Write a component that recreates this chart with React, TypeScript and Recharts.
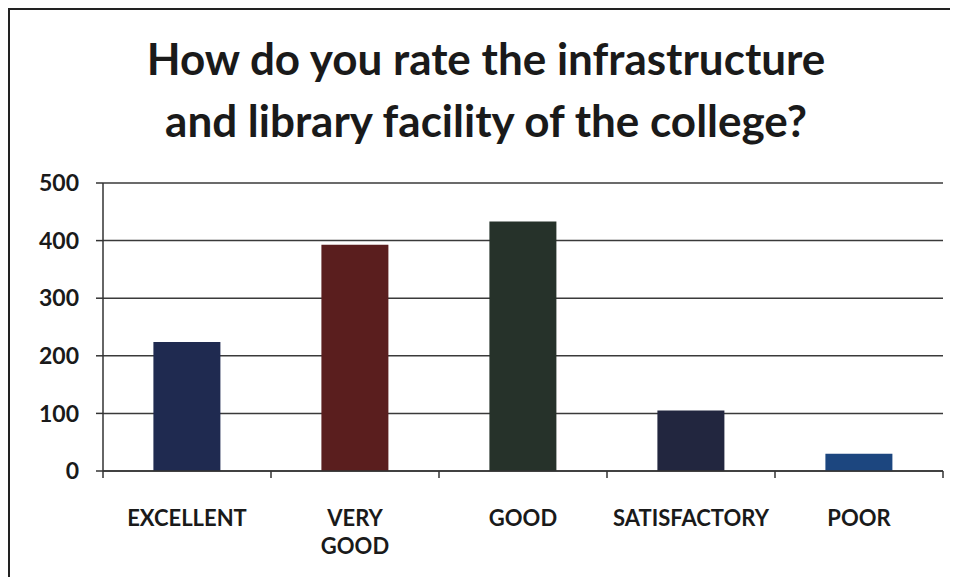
import { BarChart, Bar, XAxis, YAxis, CartesianGrid, Cell } from 'recharts'

const categories = ['EXCELLENT', 'VERY GOOD', 'GOOD', 'SATISFACTORY', 'POOR']
const responses = [224, 393, 433, 105, 30]
const barColors = ['#1f2a50', '#5a1e1e', '#26322a', '#22263f', '#1c467f']
const yTicks = [0, 100, 200, 300, 400, 500]

const data = categories.map((name, i) => ({ name, value: responses[i] }))

const FONT = 'Lato, "Open Sans", sans-serif'
const CHART_W = 948
const CHART_H = 565
const MARGIN = { top: 175, right: 13, bottom: 22, left: 0 }
const Y_AXIS_W = 95
const BAND = (CHART_W - MARGIN.left - MARGIN.right - Y_AXIS_W) / categories.length

const CategoryTick = (props: any) => {
  const { x, y, payload, index } = props
  const words = String(payload.value).split(' ')
  const left = x - BAND / 2
  return (
    <g>
      <line x1={left} x2={left} y1={y - 8} y2={y - 1} stroke="#333" strokeWidth={1.5} />
      {index === categories.length - 1 && (
        <line x1={left + BAND} x2={left + BAND} y1={y - 8} y2={y - 1} stroke="#333" strokeWidth={1.5} />
      )}
      <text x={x} y={y + 47} textAnchor="middle" fontFamily={FONT} fontWeight={700} fontSize={22} fill="#1a1a1a">
        {words.map((w, i) => (
          <tspan key={i} x={x} dy={i === 0 ? 0 : 28}>{w}</tspan>
        ))}
      </text>
    </g>
  )
}

export default function App() {
  return (
    <div
      style={{
        position: 'relative',
        width: 950,
        height: 569,
        overflow: 'hidden',
        borderTop: '2px solid #222',
        borderLeft: '2px solid #222',
        boxSizing: 'border-box',
        background: '#fff',
      }}
    >
      <div
        style={{
          position: 'absolute',
          top: 17,
          left: 6,
          width: 940,
          textAlign: 'center',
          fontFamily: FONT,
          fontWeight: 700,
          fontSize: 44,
          lineHeight: '62px',
          color: '#1a1a1a',
          whiteSpace: 'nowrap',
        }}
      >
        How do you rate the infrastructure
        <br />
        and library facility of the college?
      </div>
      <div style={{ position: 'absolute', top: -2, left: -2 }}>
        <BarChart width={CHART_W} height={CHART_H} data={data} margin={MARGIN} barCategoryGap="30%">
          <CartesianGrid vertical={false} stroke="#3a3a3a" strokeWidth={1.5} />
          <XAxis
            dataKey="name"
            interval={0}
            axisLine={{ stroke: '#333', strokeWidth: 1.5 }}
            tickLine={false}
            height={80}
            tick={<CategoryTick />}
          />
          <YAxis
            domain={[0, 500]}
            ticks={yTicks}
            width={Y_AXIS_W}
            tickSize={7}
            tickMargin={17}
            axisLine={{ stroke: '#333', strokeWidth: 1.5 }}
            tickLine={{ stroke: '#333', strokeWidth: 1.5 }}
            tick={{ fontFamily: FONT, fontWeight: 700, fontSize: 23, fill: '#1a1a1a' }}
          />
          <Bar dataKey="value" isAnimationActive={false}>
            {data.map((d, i) => (
              <Cell key={d.name} fill={barColors[i]} />
            ))}
          </Bar>
        </BarChart>
      </div>
    </div>
  )
}
